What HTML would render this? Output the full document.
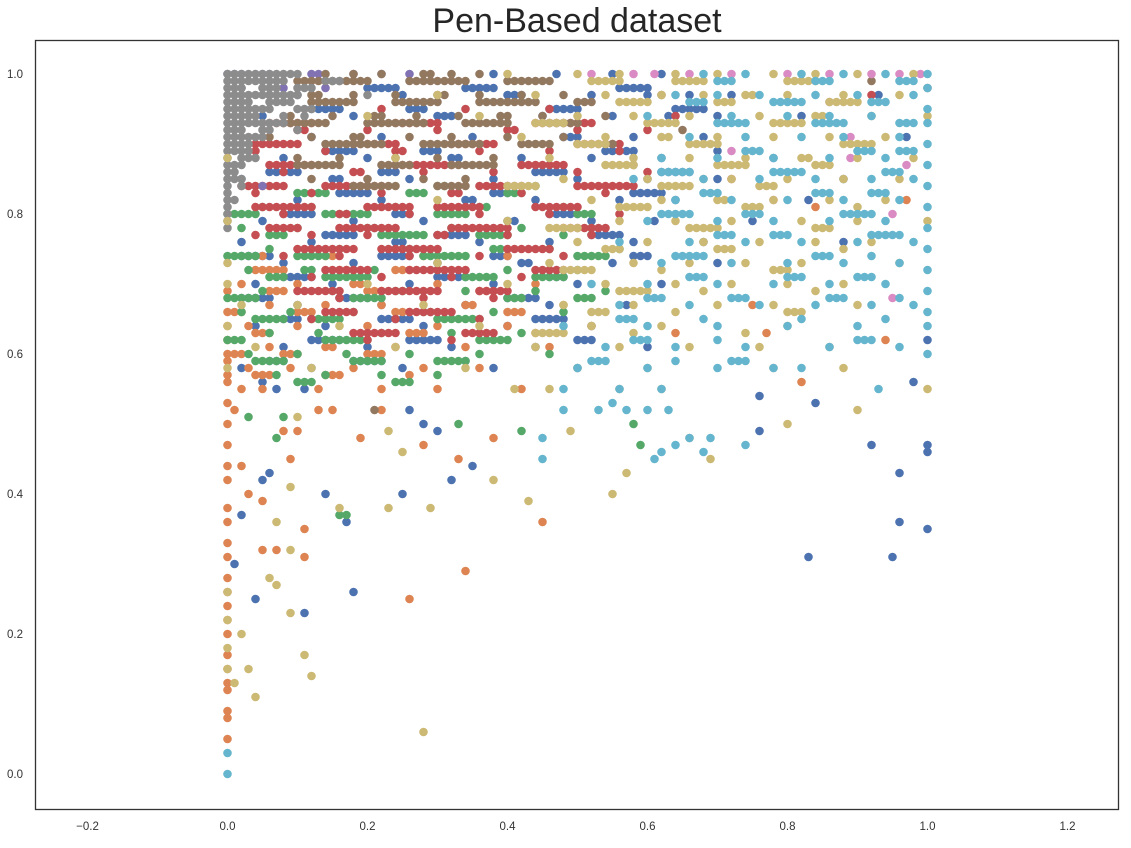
<!DOCTYPE html>
<html><head><meta charset="utf-8"><style>
body{margin:0;background:#fff;}
svg text{font-family:"Liberation Sans",sans-serif;}
</style></head><body>
<svg id="chart" width="1131" height="843" viewBox="0 0 1131 843" xmlns="http://www.w3.org/2000/svg">
<rect width="1131" height="843" fill="#fff"/>
<text x="577" y="32" text-anchor="middle" font-size="34" fill="#262626">Pen-Based dataset</text>
<g id="points"></g>
<rect x="35.5" y="40.5" width="1083" height="769" fill="none" stroke="#333" stroke-width="1.3"/>
<g id="ticks"></g>
</svg>
<script>
const xTicks = [-0.2, 0.0, 0.2, 0.4, 0.6, 0.8, 1.0, 1.2];
const yTicks = [0.0, 0.2, 0.4, 0.6, 0.8, 1.0];
const classNames = ["c0","c1","c2","c3","c4","c5","c6","c7","c8","c9"];
const classColors = ["#4C72B0","#DD8452","#55A868","#C44E52","#8172B3","#937860","#DA8BC3","#8C8C8C","#CCB974","#64B5CD"];
// rows: "y|x x x0-x1 ..." (runs step 0.01)
const c0Rows = ["1.00|0.38 0.47 0.55 0.62","0.97|0.10 0.25 0.40-0.42 0.52 0.60 0.66 0.72 0.93","0.94|0.05 0.18 0.30-0.32 0.45 0.55 0.63 0.70 0.82","0.91|0.12 0.22 0.35 0.48-0.50 0.58 0.68 0.97","0.88|0.08 0.20 0.32-0.33 0.42 0.52 0.62 0.78","0.85|0.02 0.15-0.16 0.26 0.38 0.50 0.60 0.70 0.88","0.82|0.10 0.22 0.34-0.35 0.44 0.56 0.64 0.83","0.79|0.05 0.18 0.28 0.40-0.41 0.52 0.61 0.75","0.76|0.02 0.12 0.24-0.25 0.36 0.46 0.58 0.68 0.88","0.73|0.08 0.18 0.30 0.42-0.43 0.55 0.70","0.70|0.04 0.15 0.26 0.38 0.50 0.62","0.67|0.10 0.22 0.34 0.46 0.57","0.64|0.04 0.14 0.28 0.40 0.52","0.61|0.08 0.20 0.32 0.44 0.60","0.62|1.00","0.58|0.02 0.12 0.25 0.38 0.50","0.56|0.05 0.98","0.55|0.07 0.11","0.54|0.76","0.53|0.84","0.52|0.26","0.50|0.28","0.49|0.30 0.76","0.47|0.92 1.00","0.46|1.00","0.44|0.35","0.43|0.06 0.96","0.42|0.05 0.32","0.40|0.14 0.25","0.37|0.02","0.36|0.17 0.96","0.35|1.00","0.31|0.83 0.95","0.30|0.01","0.26|0.18","0.25|0.04","0.23|0.11",
"0.98|0.20-0.24 0.34-0.38 0.56-0.60","0.95|0.12-0.16 0.26-0.28 0.46-0.50 0.64-0.68","0.89|0.14-0.18 0.28-0.30 0.54-0.58 0.70","0.86|0.06-0.10 0.22-0.24 0.44-0.48 0.62-0.66","0.83|0.16-0.20 0.38-0.40 0.58-0.62","0.80|0.08-0.12 0.24-0.26 0.46-0.50","0.77|0.14-0.18 0.30-0.34 0.52-0.56","0.74|0.02-0.06 0.22-0.26 0.38-0.40 0.58-0.60","0.71|0.08-0.12 0.30-0.34 0.46-0.48","0.68|0.02-0.06 0.16-0.20 0.40-0.44","0.65|0.08-0.10 0.22-0.26 0.44-0.48","0.62|0.12-0.16 0.26-0.30 0.50-0.52","0.59|0.06-0.08 0.18-0.22 0.34"];
const c1Rows = ["0.74|0.05 0.14-0.15 0.28 0.40","0.70|0.02 0.10 0.18-0.19 0.30 0.44","0.67|0.06 0.14 0.22 0.34-0.35 0.48 0.75","0.64|0.00 0.03 0.10 0.20 0.30 0.40 0.52","0.63|0.64 0.77","0.62|0.00 0.94","0.61|0.06 0.14-0.15 0.24 0.34 0.46","0.59|0.00","0.58|0.03 0.09 0.18 0.28 0.36","0.56|0.00 0.82","0.55|0.02 0.05 0.13 0.22 0.30 0.42","0.53|0.00","0.52|0.01 0.13 0.15 0.22","0.50|0.00","0.49|0.08 0.10","0.48|0.19 0.38","0.47|0.00 0.28","0.45|0.09 0.33","0.44|0.00 0.02","0.42|0.00","0.40|0.03","0.39|0.05","0.38|0.00","0.36|0.00 0.45","0.35|0.11","0.33|0.00","0.32|0.05 0.07","0.31|0.00 0.11","0.29|0.34","0.28|0.00","0.26|0.00","0.25|0.26","0.24|0.00","0.22|0.00","0.20|0.00","0.17|0.00","0.15|0.00","0.13|0.00","0.12|0.00","0.09|0.00","0.08|0.00","0.05|0.00","0.81|0.84","0.82|0.97",
"0.72|0.04-0.08 0.16-0.18 0.24-0.26","0.69|0.00 0.06-0.08 0.20-0.22 0.36-0.38","0.66|0.00-0.02 0.10-0.12 0.24-0.26 0.40-0.42","0.63|0.04-0.06 0.26-0.28 0.44","0.60|0.00-0.02 0.08-0.10 0.20-0.22","0.57|0.00 0.04-0.06 0.14-0.16 0.26"];
const c2Rows = ["0.84|0.18 0.30-0.31 0.44","0.81|0.05 0.12 0.24 0.36-0.37 0.48","0.78|0.02 0.10 0.20-0.21 0.32 0.42 0.52","0.75|0.06 0.16 0.26 0.38-0.39 0.46 0.56","0.72|0.03 0.11-0.12 0.21 0.30 0.40 0.50","0.69|0.05 0.15 0.24-0.25 0.34 0.44 0.54","0.66|0.02 0.09 0.18 0.28-0.29 0.38 0.48","0.63|0.06 0.13 0.22 0.32 0.42","0.60|0.03 0.10 0.17 0.26 0.36 0.46","0.57|0.07 0.14 0.22 0.30","0.51|0.03 0.08","0.50|0.33 0.58","0.49|0.42","0.48|0.07","0.47|0.59","0.37|0.16 0.17",
"0.83|0.10-0.14 0.26-0.28 0.40-0.42","0.80|0.00-0.04 0.14-0.20 0.30-0.34 0.50-0.52","0.77|0.06-0.08 0.22-0.28 0.36-0.40 0.48","0.74|0.00-0.04 0.10-0.14 0.28-0.34 0.50-0.54","0.71|0.06-0.08 0.14-0.20 0.34-0.38 0.44-0.48","0.68|0.00-0.04 0.18-0.22 0.40-0.42 0.50-0.52","0.65|0.04-0.08 0.12-0.16 0.30-0.36","0.62|0.00-0.02 0.14-0.20 0.36-0.40","0.59|0.04-0.08 0.18-0.22 0.30-0.34","0.56|0.10-0.12 0.24-0.26"];
const c3Rows = ["0.95|0.22 0.34 0.46","0.94|0.64","0.92|0.10-0.11 0.20 0.30 0.40-0.41 0.50 0.60","0.89|0.04 0.14 0.24-0.25 0.36 0.46 0.56","0.86|0.08 0.18-0.19 0.28 0.38 0.50 0.60","0.85|0.72","0.83|0.04 0.12 0.22 0.32-0.33 0.42 0.54","0.80|0.08 0.16-0.17 0.26 0.36 0.46 0.56","0.77|0.04 0.12 0.20 0.30-0.31 0.40 0.52","0.74|0.08 0.16 0.26 0.36 0.48","0.71|0.12 0.22 0.32 0.42","0.68|0.16 0.28 0.38","0.65|0.12 0.24 0.36","0.62|0.20 0.32","0.97|0.92",
"0.93|0.06-0.12 0.24-0.30 0.44-0.52","0.90|0.04-0.10 0.18-0.24 0.32-0.38 0.50-0.56","0.87|0.06-0.12 0.24-0.32 0.42-0.48","0.84|0.02-0.08 0.14-0.22 0.36-0.42 0.50-0.58","0.81|0.04-0.12 0.20-0.26 0.30-0.36 0.44-0.50","0.78|0.06-0.10 0.16-0.24 0.32-0.40 0.48-0.54","0.75|0.10-0.18 0.22-0.30 0.40-0.46","0.72|0.14-0.20 0.26-0.34 0.44-0.48","0.69|0.10-0.16 0.22-0.30 0.36-0.40","0.66|0.14-0.18 0.26-0.32","0.63|0.18-0.24 0.34-0.38"];
const c4Rows = ["1.00|0.00-0.02 0.05-0.06 0.12-0.13 0.18 0.22 0.26","0.98|0.02 0.08 0.14","0.84|0.05"];
const c5Rows = ["1.00|0.14 0.18 0.22 0.28-0.29 0.32 0.36","0.99|0.92","0.98|1.00","0.97|0.06 0.12-0.13 0.18 0.24 0.30-0.31 0.36 0.42 0.48 0.62","0.94|0.09 0.15 0.21-0.22 0.27 0.33 0.39-0.40 0.45 0.54","0.92|0.65","0.91|0.06 0.12 0.18-0.19 0.26 0.32 0.40 0.48","0.90|0.55","0.88|0.10 0.16 0.24 0.30 0.38","0.87|0.58","0.85|0.12 0.20 0.28 0.34","0.52|0.21",
"0.99|0.10-0.20 0.26-0.34 0.40-0.46","0.96|0.12-0.18 0.24-0.30 0.36-0.44 0.50-0.52","0.93|0.08-0.14 0.20-0.28 0.34-0.40 0.46-0.50","0.90|0.14-0.22 0.28-0.36 0.42-0.46","0.87|0.10-0.16 0.22-0.26 0.32-0.38","0.84|0.18-0.24 0.30-0.34"];
const c6Rows = ["1.00|0.52 0.58 0.61 0.66 0.72 0.80 0.86 0.92 0.96 0.99","0.96|0.86","0.91|0.89","0.89|0.72","0.88|0.89","0.87|0.97","0.82|0.78","0.80|0.95","0.68|0.95"];
const c7Rows = ["1.00|0.00-0.10","0.98|0.00-0.02 0.05-0.07 0.10-0.12","0.96|0.00-0.03 0.06-0.09","0.94|0.00-0.04 0.08 0.11","0.92|0.00-0.02 0.05-0.06 0.10","0.90|0.00-0.03","0.88|0.00 0.02-0.04","0.86|0.00-0.01","0.84|0.00 0.02","0.82|0.00-0.01","0.80|0.00","0.78|0.00",
"0.99|0.00-0.08 0.14-0.16","0.97|0.00-0.10 0.20","0.95|0.00-0.06 0.10-0.12","0.93|0.00-0.08","0.91|0.00-0.05","0.89|0.00-0.03","0.87|0.00-0.02","0.85|0.00-0.02","0.83|0.00","0.81|0.00","0.79|0.00"];
const c8Rows = ["1.00|0.40 0.50 0.56 0.64 0.70 0.78 0.84 0.90 0.98","0.97|0.30 0.44 0.54 0.62 0.68 0.74-0.75 0.80 0.88 0.96","0.94|0.20 0.36 0.50 0.58 0.66 0.76 0.84-0.85 0.92 1.00","0.91|0.42 0.54 0.62-0.63 0.70 0.78 0.86 0.94","0.88|0.00 0.24 0.46 0.58 0.66 0.74 0.82-0.83 0.90 0.98","0.85|0.48 0.60 0.68 0.72 0.80 0.88 0.96","0.82|0.30 0.52 0.62 0.70-0.71 0.78 0.86 0.94","0.79|0.00 0.40 0.56 0.64 0.72 0.82 0.90 1.00","0.76|0.50 0.60 0.68 0.76 0.84 0.92","0.73|0.00 0.30 0.46 0.58 0.66 0.74 0.82 0.96","0.70|0.00 0.20 0.40 0.54 0.64 0.72 0.80 0.88","0.67|0.02 0.10 0.28 0.48 0.58 0.70 0.78 0.90","0.64|0.00 0.16 0.36 0.52 0.62 0.80","0.61|0.04 0.24 0.44 0.56 0.66 0.76 0.86","0.58|0.00 0.12 0.34 0.50 0.60 0.78 0.88","0.55|0.41 0.46 0.56 0.62 1.00","0.52|0.90","0.51|0.10","0.50|0.80","0.49|0.23 0.49","0.48|0.66","0.46|0.25","0.45|0.69","0.43|0.57","0.42|0.38","0.41|0.09","0.40|0.55","0.39|0.43","0.38|0.16 0.23 0.29","0.36|0.07","0.32|0.09","0.28|0.06","0.27|0.07","0.26|0.00","0.23|0.09","0.22|0.00","0.20|0.02","0.18|0.00","0.17|0.11","0.15|0.00 0.03","0.14|0.12","0.13|0.01","0.11|0.04","0.06|0.28",
"0.99|0.52-0.56 0.64-0.68 0.80-0.84","0.96|0.56-0.60 0.70-0.72 0.86-0.90","0.93|0.44-0.48 0.60-0.64 0.78-0.82","0.90|0.50-0.54 0.66-0.70 0.88-0.92","0.87|0.54-0.58 0.70-0.74 0.84-0.86","0.84|0.40-0.44 0.62-0.66 0.76-0.78","0.81|0.56-0.60 0.74-0.76 0.90","0.78|0.46-0.50 0.66-0.70 0.84-0.86","0.75|0.54-0.56 0.70-0.72 0.88","0.72|0.48-0.52 0.62 0.78-0.80","0.69|0.56-0.60 0.68 0.84","0.66|0.52-0.54 0.64 0.80-0.82","0.63|0.44-0.48 0.58 0.74"];
const c9Rows = ["1.00|0.68 0.74 0.82 0.88 0.94 1.00","0.98|1.00","0.97|0.64 0.70 0.76 0.84 0.90 0.98","0.95|1.00","0.94|0.60 0.72 0.80 0.86 0.92","0.93|1.00","0.91|0.66 0.74 0.82 0.88 0.96","0.90|1.00","0.88|0.62 0.70 0.78 0.86 0.94","0.87|1.00","0.85|0.58 0.68 0.76 0.84 0.92 0.98","0.84|1.00","0.82|0.64 0.72 0.80 0.88 0.96","0.81|1.00","0.79|0.60 0.70 0.78 0.86 0.94","0.78|1.00","0.76|0.56 0.66 0.74 0.82 0.90 0.98","0.75|1.00","0.73|0.62 0.72 0.80 0.88 0.96","0.72|1.00","0.70|0.52 0.60 0.70 0.78 0.86 0.94","0.69|1.00","0.67|0.56 0.66 0.76 0.84 0.92 0.98","0.66|1.00","0.64|0.48 0.60 0.70 0.80 0.90 1.00","0.61|0.54 0.64 0.74 0.86 0.96","0.60|1.00","0.58|0.50 0.60 0.70 0.78 0.82","0.55|0.48 0.56 0.62 0.93","0.53|0.55","0.52|0.48 0.53 0.57 0.60 0.63","0.48|0.45 0.66 0.69","0.47|0.64 0.74","0.46|0.62 0.68","0.45|0.45 0.61","0.03|0.00","0.00|0.00",
"0.99|0.70-0.72 0.84-0.86 0.96-0.98","0.96|0.66-0.68 0.78-0.82 0.92-0.94","0.93|0.70-0.74 0.84-0.88 0.96-0.98","0.89|0.74-0.76 0.90-0.92 0.96-0.98","0.86|0.62-0.66 0.78-0.82 0.94-0.96","0.83|0.68-0.70 0.84-0.86 0.92-0.94","0.80|0.62-0.66 0.74-0.76 0.88-0.92","0.77|0.70-0.72 0.78-0.80 0.92-0.96","0.74|0.64-0.68 0.84-0.86 0.92","0.71|0.66-0.68 0.80-0.82 0.90-0.92","0.68|0.60-0.62 0.72-0.74 0.86-0.88 0.96","0.65|0.56-0.58 0.68 0.82 0.94","0.62|0.58-0.60 0.70 0.90-0.92","0.59|0.52-0.54 0.64 0.72-0.74"];
const allRows = [c0Rows,c1Rows,c2Rows,c3Rows,c4Rows,c5Rows,c6Rows,c7Rows,c8Rows,c9Rows];

const X0 = 227.5, XS = 700, Y0 = 774, YS = 700;
function xScale(v){ return X0 + v*XS; }
function yScale(v){ return Y0 - v*YS; }
const NS = "http://www.w3.org/2000/svg";
function parseRows(rows){
  const pts = [];
  rows.forEach(r => {
    const [ys, xs] = r.split("|");
    const y = parseFloat(ys);
    xs.trim().split(/\s+/).forEach(tok => {
      if (tok.indexOf("-") > 0) {
        const [a,b] = tok.split("-").map(parseFloat);
        for (let k = Math.round(a*100); k <= Math.round(b*100); k++) pts.push([k/100, y]);
      } else pts.push([parseFloat(tok), y]);
    });
  });
  return pts;
}
const gp = document.getElementById("points");
allRows.forEach((rows, ci) => {
  const g = document.createElementNS(NS, "g");
  
  
  parseRows(rows).forEach(p => {
    const c = document.createElementNS(NS, "circle");
    
    
    c.setAttribute("cx", xScale(p[0]).toFixed(1));
    c.setAttribute("cy", yScale(p[1]).toFixed(1));
    c.setAttribute("r", "4.3");
    c.setAttribute("fill", classColors[ci]);
    g.appendChild(c);
  });
  gp.appendChild(g);
});
const gt = document.getElementById("ticks");
xTicks.forEach(v => {
  const t = document.createElementNS(NS, "text");
  
  
  t.setAttribute("x", xScale(v)); t.setAttribute("y", 830);
  t.setAttribute("text-anchor", "middle"); t.setAttribute("font-size", "11.5"); t.setAttribute("fill", "#333");
  t.textContent = (v < 0 ? "\u2212" : "") + Math.abs(v).toFixed(1);
  gt.appendChild(t);
});
yTicks.forEach(v => {
  const t = document.createElementNS(NS, "text");
  
  
  t.setAttribute("x", 23); t.setAttribute("y", yScale(v) + 4);
  t.setAttribute("text-anchor", "end"); t.setAttribute("font-size", "11.5"); t.setAttribute("fill", "#333");
  t.textContent = v.toFixed(1);
  gt.appendChild(t);
});
</script>
</body></html>
